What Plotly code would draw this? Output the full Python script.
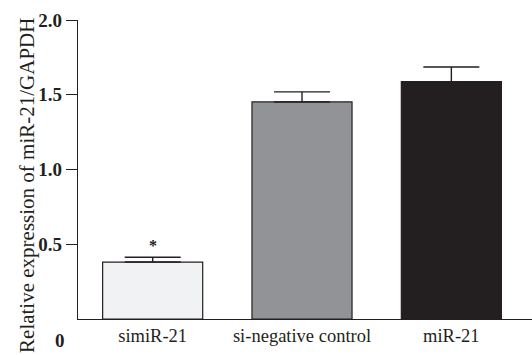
import plotly.graph_objects as go

categories = ["simiR-21", "si-negative control", "miR-21"]
values = [0.381, 1.452, 1.588]
errors = [0.032, 0.067, 0.098]
y_tick_vals = [0.5, 1.0, 1.5, 2.0]
y_tick_text = ["0.5", "1.0", "1.5", "2.0"]

bar_colors = ["#f1f2f4", "#929396", "#231f20"]
serif = "Liberation Serif"
dark = "#231f20"

fig = go.Figure()
fig.add_trace(go.Bar(
    x=list(range(len(categories))),
    y=values,
    width=0.67,
    marker=dict(color=bar_colors, line=dict(color=dark, width=1.2)),
    error_y=dict(type="data", array=errors, symmetric=False, arrayminus=[0]*3,
                 color=dark, thickness=1.4, width=28),
    showlegend=False,
))

fig.update_layout(
    width=532, height=355,
    margin=dict(l=78, r=0, t=20, b=36),
    paper_bgcolor="white", plot_bgcolor="white",
    xaxis=dict(
        range=[-0.5, 2.54],
        tickvals=list(range(len(categories))),
        ticktext=categories,
        tickfont=dict(family=serif, size=18.5, color=dark),
        showline=True, linecolor=dark, linewidth=1.4,
        ticks="", showgrid=False, zeroline=False, automargin=False,
    ),
    yaxis=dict(
        range=[0, 2.0],
        tickvals=y_tick_vals,
        ticktext=y_tick_text,
        tickfont=dict(family=serif, size=19, color=dark, weight="bold"),
        showline=True, linecolor=dark, linewidth=1.4,
        ticks="outside", ticklen=11, tickwidth=1.4, tickcolor=dark,
        ticklabelstandoff=0,
        showgrid=False, zeroline=False, automargin=False,
    ),
    annotations=[
        dict(text="Relative expression of miR-21/GAPDH", textangle=-90,
             xref="paper", yref="paper", x=0, y=0.445, xanchor="center", yanchor="middle",
             xshift=-51, showarrow=False,
             font=dict(family=serif, size=21, color=dark)),
        dict(text="<b>0</b>", xref="paper", yref="paper", x=0, y=0,
             xanchor="center", yanchor="middle", xshift=-18, yshift=-21,
             showarrow=False, font=dict(family=serif, size=19, color=dark)),
        dict(text="<b>*</b>", xref="x", yref="y", x=0, y=0.49,
             xanchor="center", yanchor="middle", showarrow=False,
             font=dict(family=serif, size=16, color=dark)),
    ],
)

fig.write_html("out.html", config={"displayModeBar": False},
               post_script="document.body.style.margin='0';document.body.style.overflow='hidden';")
